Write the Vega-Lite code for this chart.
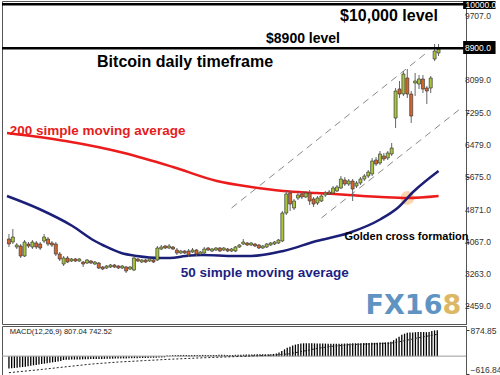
{
  "$schema": "https://vega.github.io/schema/vega-lite/v6.json",
  "background": "white",
  "padding": 0,
  "spacing": 0,
  "config": {
    "view": {"stroke": "#555", "strokeWidth": 1},
    "axis": {"labelFont": "Liberation Sans", "labelFontSize": 8.5, "labelColor": "#333", "tickColor": "#333", "domainColor": "#555", "grid": false, "tickSize": 3, "labelPadding": 1, "labelOverlap": false}
  },
  "datasets": {
    "candles": [
      {"i":0,"o":4134,"h":4259,"l":3934,"c":4009},{"i":1,"o":4059,"h":4384,"l":4009,"c":4184},{"i":2,"o":3934,"h":4034,"l":3884,"c":3984},{"i":3,"o":3959,"h":4009,"l":3659,"c":3709},{"i":4,"o":3709,"h":4109,"l":3684,"c":4059},{"i":5,"o":4009,"h":4059,"l":3909,"c":3959},{"i":6,"o":3934,"h":4109,"l":3884,"c":4059},{"i":7,"o":4034,"h":4084,"l":3884,"c":3934},{"i":8,"o":4009,"h":4059,"l":3859,"c":3909},{"i":9,"o":4084,"h":4259,"l":4034,"c":4184},
      {"i":10,"o":4134,"h":4184,"l":3959,"c":4009},{"i":11,"o":4034,"h":4084,"l":3934,"c":3984},{"i":12,"o":4009,"h":4059,"l":3709,"c":3759},{"i":13,"o":3759,"h":3809,"l":3584,"c":3634},{"i":14,"o":3509,"h":3709,"l":3459,"c":3659},{"i":15,"o":3659,"h":3709,"l":3534,"c":3559},{"i":16,"o":3584,"h":3659,"l":3559,"c":3634},{"i":17,"o":3634,"h":3659,"l":3559,"c":3584},{"i":18,"o":3584,"h":3659,"l":3559,"c":3634},{"i":19,"o":3559,"h":3584,"l":3434,"c":3509},
      {"i":20,"o":3534,"h":3634,"l":3509,"c":3609},{"i":21,"o":3584,"h":3609,"l":3509,"c":3534},{"i":22,"o":3509,"h":3584,"l":3484,"c":3559},{"i":23,"o":3534,"h":3559,"l":3384,"c":3409},{"i":24,"o":3434,"h":3459,"l":3359,"c":3384},{"i":25,"o":3409,"h":3484,"l":3384,"c":3459},{"i":26,"o":3434,"h":3509,"l":3409,"c":3484},{"i":27,"o":3484,"h":3509,"l":3409,"c":3434},{"i":28,"o":3459,"h":3484,"l":3384,"c":3409},{"i":29,"o":3409,"h":3484,"l":3384,"c":3459},
      {"i":30,"o":3434,"h":3459,"l":3284,"c":3334},{"i":31,"o":3384,"h":3459,"l":3359,"c":3434},{"i":32,"o":3359,"h":3709,"l":3334,"c":3659},{"i":33,"o":3634,"h":3659,"l":3559,"c":3584},{"i":34,"o":3559,"h":3634,"l":3534,"c":3609},{"i":35,"o":3609,"h":3634,"l":3534,"c":3559},{"i":36,"o":3584,"h":3659,"l":3559,"c":3634},{"i":37,"o":3609,"h":3634,"l":3534,"c":3559},{"i":38,"o":3609,"h":3959,"l":3584,"c":3909},{"i":39,"o":3884,"h":3984,"l":3859,"c":3934},
      {"i":40,"o":3959,"h":3984,"l":3884,"c":3909},{"i":41,"o":3909,"h":4009,"l":3884,"c":3959},{"i":42,"o":3934,"h":3959,"l":3859,"c":3884},{"i":43,"o":3859,"h":3909,"l":3734,"c":3784},{"i":44,"o":3784,"h":3859,"l":3759,"c":3834},{"i":45,"o":3834,"h":3859,"l":3759,"c":3784},{"i":46,"o":3834,"h":3884,"l":3684,"c":3734},{"i":47,"o":3809,"h":3909,"l":3784,"c":3859},{"i":48,"o":3859,"h":3884,"l":3709,"c":3759},{"i":49,"o":3759,"h":3834,"l":3734,"c":3809},
      {"i":50,"o":3784,"h":3934,"l":3759,"c":3884},{"i":51,"o":3909,"h":3934,"l":3834,"c":3859},{"i":52,"o":3834,"h":3909,"l":3809,"c":3884},{"i":53,"o":3859,"h":3934,"l":3834,"c":3909},{"i":54,"o":3909,"h":3934,"l":3809,"c":3834},{"i":55,"o":3859,"h":3934,"l":3834,"c":3909},{"i":56,"o":3884,"h":3909,"l":3809,"c":3834},{"i":57,"o":3834,"h":3909,"l":3809,"c":3884},{"i":58,"o":3834,"h":3959,"l":3809,"c":3934},{"i":59,"o":3934,"h":4009,"l":3909,"c":3984},
      {"i":60,"o":4009,"h":4134,"l":3984,"c":4059},{"i":61,"o":4034,"h":4059,"l":3959,"c":3984},{"i":62,"o":3984,"h":4059,"l":3959,"c":4034},{"i":63,"o":4009,"h":4034,"l":3934,"c":3959},{"i":64,"o":3984,"h":4009,"l":3884,"c":3909},{"i":65,"o":3909,"h":3984,"l":3884,"c":3959},{"i":66,"o":3934,"h":4034,"l":3909,"c":4009},{"i":67,"o":3984,"h":4059,"l":3959,"c":4034},{"i":68,"o":4009,"h":4084,"l":3984,"c":4059},{"i":69,"o":4034,"h":4134,"l":4009,"c":4109},
      {"i":70,"o":4084,"h":4834,"l":4059,"c":4784},{"i":71,"o":4784,"h":5334,"l":4734,"c":5259},{"i":72,"o":5284,"h":5334,"l":4834,"c":5009},{"i":73,"o":4909,"h":5134,"l":4859,"c":5084},{"i":74,"o":5159,"h":5309,"l":5109,"c":5234},{"i":75,"o":5259,"h":5334,"l":5134,"c":5184},{"i":76,"o":5184,"h":5334,"l":5159,"c":5284},{"i":77,"o":5284,"h":5359,"l":4984,"c":5084},{"i":78,"o":5134,"h":5184,"l":4934,"c":5009},{"i":79,"o":5034,"h":5209,"l":4984,"c":5159},
      {"i":80,"o":5084,"h":5259,"l":5059,"c":5209},{"i":81,"o":5234,"h":5334,"l":5184,"c":5284},{"i":82,"o":5309,"h":5359,"l":5234,"c":5259},{"i":83,"o":5284,"h":5459,"l":5259,"c":5409},{"i":84,"o":5334,"h":5484,"l":5309,"c":5434},{"i":85,"o":5409,"h":5709,"l":5384,"c":5634},{"i":86,"o":5609,"h":5684,"l":5459,"c":5509},{"i":87,"o":5509,"h":5634,"l":5459,"c":5584},{"i":88,"o":5584,"h":5634,"l":5084,"c":5384},{"i":89,"o":5459,"h":5584,"l":5409,"c":5534},
      {"i":90,"o":5534,"h":5684,"l":5484,"c":5634},{"i":91,"o":5634,"h":5759,"l":5584,"c":5709},{"i":92,"o":5709,"h":5859,"l":5659,"c":5809},{"i":93,"o":5759,"h":6159,"l":5709,"c":6084},{"i":94,"o":6109,"h":6184,"l":5959,"c":6009},{"i":95,"o":6034,"h":6334,"l":5984,"c":6259},{"i":96,"o":6209,"h":6284,"l":6084,"c":6134},{"i":97,"o":6159,"h":6334,"l":6109,"c":6284},{"i":98,"o":6259,"h":6534,"l":6209,"c":6409},{"i":99,"o":7159,"h":7909,"l":6909,"c":7834},
      {"i":100,"o":7884,"h":8084,"l":7659,"c":7759},{"i":101,"o":7759,"h":8334,"l":7709,"c":8259},{"i":102,"o":8159,"h":8384,"l":7659,"c":7759},{"i":103,"o":7759,"h":7834,"l":7034,"c":7209},{"i":104,"o":8034,"h":8284,"l":7709,"c":8084},{"i":105,"o":8009,"h":8234,"l":7884,"c":8134},{"i":106,"o":8134,"h":8234,"l":7784,"c":7884},{"i":107,"o":7909,"h":7959,"l":7509,"c":7834},{"i":108,"o":7909,"h":8209,"l":7784,"c":8159},{"i":109,"o":8634,"h":9009,"l":8584,"c":8834},
      {"i":110,"o":8784,"h":9009,"l":8709,"c":8884}
    ],
    "sma200": [
      {"i":-0.5,"v":6784},{"i":14.5,"v":6584},{"i":29.5,"v":6284},{"i":42,"v":5934},{"i":53.25,"v":5584},{"i":62,"v":5434},{"i":70.25,"v":5334},{"i":78.75,"v":5284},{"i":87,"v":5234},{"i":95.25,"v":5184},{"i":102,"v":5159},{"i":110,"v":5209}
    ],
    "sma50": [
      {"i":-0.5,"v":5209},{"i":7.75,"v":4884},{"i":16.25,"v":4459},{"i":22,"v":4084},{"i":24.5,"v":3959},{"i":28.75,"v":3784},{"i":32.75,"v":3709},{"i":38.75,"v":3659},{"i":41.25,"v":3659},{"i":45.25,"v":3709},{"i":49.5,"v":3734},{"i":57.75,"v":3709},{"i":62,"v":3709},{"i":70.25,"v":3834},{"i":78.75,"v":4084},{"i":87,"v":4284},{"i":95.25,"v":4634},{"i":99.5,"v":4909},{"i":103.75,"v":5334},{"i":110,"v":5834}
    ],
    "channel": [
      {"k":"upper","i":57,"v":4909},{"k":"upper","i":107.5,"v":8834},{"k":"lower","i":80,"v":4659},{"k":"lower","i":115.5,"v":7384}
    ],
    "levels": [{"v":10000},{"v":8900}],
    "ticklabels": [{"v":9707},{"v":8099},{"v":7295},{"v":6479},{"v":5675},{"v":4871},{"v":4067},{"v":3263},{"v":2459}],
    "cross": [{"i":102,"v":5159}],
    "macd": [
      {"m":0,"h":-420},{"m":1,"h":-410},{"m":2,"h":-400},{"m":3,"h":-390},{"m":4,"h":-380},{"m":5,"h":-370},{"m":6,"h":-355},{"m":7,"h":-340},{"m":8,"h":-325},{"m":9,"h":-310},
      {"m":10,"h":-300},{"m":11,"h":-285},{"m":12,"h":-270},{"m":13,"h":-255},{"m":14,"h":-240},{"m":15,"h":-225},{"m":16,"h":-210},{"m":17,"h":-195},{"m":18,"h":-180},{"m":19,"h":-165},
      {"m":20,"h":-130},{"m":21,"h":-125},{"m":22,"h":-120},{"m":23,"h":-118},{"m":24,"h":-115},{"m":25,"h":-112},{"m":26,"h":-110},{"m":27,"h":-108},{"m":28,"h":-105},{"m":29,"h":-102},
      {"m":30,"h":-100},{"m":31,"h":-98},{"m":32,"h":-96},{"m":33,"h":-95},{"m":34,"h":-93},{"m":35,"h":-92},{"m":36,"h":-90},{"m":37,"h":-88},{"m":38,"h":-86},{"m":39,"h":-84},
      {"m":40,"h":-82},{"m":41,"h":-80},{"m":42,"h":-78},{"m":43,"h":-76},{"m":44,"h":-74},{"m":45,"h":-72},{"m":46,"h":-70},{"m":47,"h":-68},{"m":48,"h":-66},{"m":49,"h":-64},
      {"m":50,"h":-62},{"m":51,"h":-60},{"m":52,"h":-58},{"m":53,"h":-55},{"m":54,"h":-52},{"m":55,"h":-48},{"m":56,"h":-44},{"m":57,"h":-40},{"m":58,"h":20},{"m":59,"h":25},
      {"m":60,"h":30},{"m":61,"h":32},{"m":62,"h":35},{"m":63,"h":38},{"m":64,"h":40},{"m":65,"h":40},{"m":66,"h":42},{"m":67,"h":40},{"m":68,"h":40},{"m":69,"h":38},
      {"m":70,"h":40},{"m":71,"h":42},{"m":72,"h":40},{"m":73,"h":40},{"m":74,"h":38},{"m":75,"h":40},{"m":76,"h":42},{"m":77,"h":44},{"m":78,"h":45},{"m":79,"h":44},
      {"m":80,"h":42},{"m":81,"h":40},{"m":82,"h":42},{"m":83,"h":45},{"m":84,"h":48},{"m":85,"h":50},{"m":86,"h":50},{"m":87,"h":52},{"m":88,"h":55},{"m":89,"h":55},
      {"m":90,"h":58},{"m":91,"h":60},{"m":92,"h":60},{"m":93,"h":62},{"m":94,"h":62},{"m":95,"h":65},{"m":96,"h":68},{"m":97,"h":75},{"m":98,"h":90},{"m":99,"h":120},
      {"m":100,"h":170},{"m":101,"h":230},{"m":102,"h":280},{"m":103,"h":320},{"m":104,"h":360},{"m":105,"h":390},{"m":106,"h":410},{"m":107,"h":425},{"m":108,"h":435},{"m":109,"h":440},
      {"m":110,"h":438},{"m":111,"h":435},{"m":112,"h":432},{"m":113,"h":430},{"m":114,"h":428},{"m":115,"h":425},{"m":116,"h":425},{"m":117,"h":422},{"m":118,"h":420},{"m":119,"h":420},
      {"m":120,"h":418},{"m":121,"h":420},{"m":122,"h":422},{"m":123,"h":425},{"m":124,"h":428},{"m":125,"h":430},{"m":126,"h":432},{"m":127,"h":435},{"m":128,"h":438},{"m":129,"h":440},
      {"m":130,"h":442},{"m":131,"h":445},{"m":132,"h":448},{"m":133,"h":450},{"m":134,"h":452},{"m":135,"h":455},{"m":136,"h":458},{"m":137,"h":460},{"m":138,"h":465},{"m":139,"h":470},
      {"m":140,"h":490},{"m":141,"h":540},{"m":142,"h":600},{"m":143,"h":660},{"m":144,"h":720},{"m":145,"h":760},{"m":146,"h":790},{"m":147,"h":800},{"m":148,"h":800},{"m":149,"h":810},
      {"m":150,"h":820},{"m":151,"h":820},{"m":152,"h":815},{"m":153,"h":810},{"m":154,"h":820},{"m":155,"h":850},{"m":156,"h":870},{"m":157,"h":880}
    ],
    "signal": [
      {"m":0,"s":-560},{"m":10,"s":-470},{"m":20,"s":-370},{"m":30,"s":-270},{"m":40,"s":-200},{"m":50,"s":-150},{"m":58,"s":-110},{"m":70,"s":-60},{"m":85,"s":-10},{"m":98,"s":40},{"m":103,"s":80},{"m":108,"s":170},{"m":113,"s":260},{"m":118,"s":330},{"m":125,"s":390},{"m":135,"s":420},{"m":140,"s":440},{"m":145,"s":520},{"m":150,"s":620},{"m":157,"s":740}
    ]
  },
  "vconcat": [
    {
      "width": 464,
      "height": 323,
      "layer": [
        {
          "data": {"name": "channel"},
          "mark": {"type": "line", "color": "#8a8a8a", "strokeWidth": 1, "strokeDash": [7, 5]},
          "encoding": {
            "x": {"field": "i", "type": "quantitative", "scale": {"domain": [-0.5, 115.75], "nice": false, "zero": false}, "axis": null},
            "y": {"field": "v", "type": "quantitative", "scale": {"domain": [2009, 10084], "nice": false, "zero": false},
              "axis": {"orient": "right", "title": null, "values": [2459, 3263, 4067, 4871, 5675, 6479, 7295, 8099, 8900, 9707, 10000], "labels": false}},
            "detail": {"field": "k"}
          }
        },
        {
          "data": {"name": "cross"},
          "mark": {"type": "point", "filled": true, "color": "#f6b46e", "opacity": 0.55, "size": 190},
          "encoding": {"x": {"field": "i", "type": "quantitative"}, "y": {"field": "v", "type": "quantitative"}}
        },
        {
          "data": {"name": "sma200"},
          "mark": {"type": "line", "color": "#ec1c1c", "strokeWidth": 2.5, "interpolate": "monotone"},
          "encoding": {"x": {"field": "i", "type": "quantitative"}, "y": {"field": "v", "type": "quantitative"}}
        },
        {
          "data": {"name": "sma50"},
          "mark": {"type": "line", "color": "#1c1f78", "strokeWidth": 2.5, "interpolate": "monotone"},
          "encoding": {"x": {"field": "i", "type": "quantitative"}, "y": {"field": "v", "type": "quantitative"}}
        },
        {
          "data": {"name": "candles"},
          "mark": {"type": "rule", "color": "#666", "strokeWidth": 1},
          "encoding": {"x": {"field": "i", "type": "quantitative"}, "y": {"field": "l", "type": "quantitative"}, "y2": {"field": "h"}}
        },
        {
          "data": {"name": "candles"},
          "mark": {"type": "bar", "size": 3, "stroke": "#3a3a3a", "strokeWidth": 0.7},
          "encoding": {
            "x": {"field": "i", "type": "quantitative"},
            "y": {"field": "o", "type": "quantitative"},
            "y2": {"field": "c"},
            "fill": {"condition": {"test": "datum.c >= datum.o", "value": "#a8c53c"}, "value": "#d8642c"}
          }
        },
        {
          "data": {"name": "levels"},
          "mark": {"type": "rule", "color": "black", "strokeWidth": 2.5},
          "encoding": {"y": {"field": "v", "type": "quantitative"}}
        },
        {
          "data": {"values": [{}]},
          "mark": {"type": "rect", "color": "black"},
          "encoding": {"x": {"datum": 116.3, "type": "quantitative"}, "x2": {"datum": 124.6}, "y": {"datum": 8759, "type": "quantitative"}, "y2": {"datum": 9084}}
        },
        {
          "data": {"values": [{}]},
          "mark": {"type": "rect", "color": "black"},
          "encoding": {"x": {"datum": 116.3, "type": "quantitative"}, "x2": {"datum": 124.6}, "y": {"datum": 9884, "type": "quantitative"}, "y2": {"datum": 10084}}
        },
        {
          "data": {"name": "ticklabels"},
          "mark": {"type": "text", "align": "left", "baseline": "middle", "font": "Liberation Sans", "fontSize": 8.5, "color": "#333"},
          "encoding": {"x": {"datum": 116.75, "type": "quantitative"}, "y": {"field": "v", "type": "quantitative"}, "text": {"field": "v", "type": "quantitative", "format": ".1f"}}
        },
        {
          "data": {"values": [{}]},
          "mark": {"type": "text", "text": "8900.0", "align": "left", "baseline": "middle", "font": "Liberation Sans", "fontSize": 8.5, "color": "white"},
          "encoding": {"x": {"datum": 116.75, "type": "quantitative"}, "y": {"datum": 8900, "type": "quantitative"}}
        },
        {
          "data": {"values": [{}]},
          "mark": {"type": "text", "text": "10000.0", "align": "left", "baseline": "top", "font": "Liberation Sans", "fontSize": 8.5, "color": "white"},
          "encoding": {"x": {"datum": 116.9, "type": "quantitative"}, "y": {"datum": 10084, "type": "quantitative"}}
        },
        {
          "data": {"values": [{}]},
          "mark": {"type": "text", "text": "$10,000 level", "font": "Liberation Sans", "fontWeight": "bold", "fontSize": 16, "color": "black"},
          "encoding": {"x": {"datum": 97.3, "type": "quantitative"}, "y": {"datum": 9709, "type": "quantitative"}}
        },
        {
          "data": {"values": [{}]},
          "mark": {"type": "text", "text": "$8900 level", "font": "Liberation Sans", "fontWeight": "bold", "fontSize": 14, "color": "black"},
          "encoding": {"x": {"datum": 75.3, "type": "quantitative"}, "y": {"datum": 9134, "type": "quantitative"}}
        },
        {
          "data": {"values": [{}]},
          "mark": {"type": "text", "text": "Bitcoin daily timeframe", "font": "Liberation Sans", "fontWeight": "bold", "fontSize": 16, "color": "black"},
          "encoding": {"x": {"datum": 45.1, "type": "quantitative"}, "y": {"datum": 8559, "type": "quantitative"}}
        },
        {
          "data": {"values": [{}]},
          "mark": {"type": "text", "text": "200 simple moving average", "font": "Liberation Sans", "fontWeight": "bold", "fontSize": 13.5, "color": "#e51d1d"},
          "encoding": {"x": {"datum": 22.7, "type": "quantitative"}, "y": {"datum": 6834, "type": "quantitative"}}
        },
        {
          "data": {"values": [{}]},
          "mark": {"type": "text", "text": "50 simple moving average", "font": "Liberation Sans", "fontWeight": "bold", "fontSize": 13.5, "color": "#1c1f80"},
          "encoding": {"x": {"datum": 65.5, "type": "quantitative"}, "y": {"datum": 3284, "type": "quantitative"}}
        },
        {
          "data": {"values": [{}]},
          "mark": {"type": "text", "text": "Golden cross formation", "font": "Liberation Sans", "fontWeight": "bold", "fontSize": 11, "color": "black"},
          "encoding": {"x": {"datum": 101.8, "type": "quantitative"}, "y": {"datum": 4184, "type": "quantitative"}}
        },
        {
          "data": {"values": [{}]},
          "mark": {"type": "text", "text": "FX16", "align": "right", "font": "DejaVu Sans", "fontWeight": "bold", "fontSize": 27, "color": "#5f93c2"},
          "encoding": {"x": {"datum": 111, "type": "quantitative"}, "y": {"datum": 2459, "type": "quantitative"}}
        },
        {
          "data": {"values": [{}]},
          "mark": {"type": "text", "text": "8", "align": "left", "font": "DejaVu Sans", "fontWeight": "bold", "fontSize": 27, "color": "#dcb866"},
          "encoding": {"x": {"datum": 111, "type": "quantitative"}, "y": {"datum": 2459, "type": "quantitative"}}
        }
      ]
    },
    {
      "width": 464,
      "height": 52,
      "layer": [
        {
          "data": {"name": "macd"},
          "mark": {"type": "bar", "color": "black", "size": 1.3},
          "encoding": {
            "x": {"field": "m", "type": "quantitative", "scale": {"domain": [-0.714, 165.7], "nice": false, "zero": false}, "axis": null},
            "y": {"field": "h", "type": "quantitative", "scale": {"domain": [-740, 1020], "nice": false, "zero": false},
              "axis": {"orient": "right", "title": null, "values": [874.85, 0, -616.84], "format": ".2f", "labelOverlap": false,
                "labelBaseline": {"condition": {"test": "datum.value < 0", "value": "bottom"}, "value": "middle"}}},
            "y2": {"datum": 0}
          }
        },
        {
          "data": {"values": [{}]},
          "mark": {"type": "rule", "color": "#999", "strokeWidth": 1},
          "encoding": {"y": {"datum": 0, "type": "quantitative"}}
        },
        {
          "data": {"name": "signal"},
          "mark": {"type": "line", "color": "#222", "strokeWidth": 1, "strokeDash": [2, 2]},
          "encoding": {"x": {"field": "m", "type": "quantitative"}, "y": {"field": "s", "type": "quantitative"}}
        },
        {
          "data": {"values": [{}]},
          "mark": {"type": "text", "text": "MACD(12,26,9) 807.04 742.52", "align": "left", "baseline": "top", "font": "Liberation Sans", "fontSize": 7.5, "color": "#222"},
          "encoding": {"x": {"datum": 0.3, "type": "quantitative"}, "y": {"datum": 960, "type": "quantitative"}}
        }
      ]
    }
  ]
}
